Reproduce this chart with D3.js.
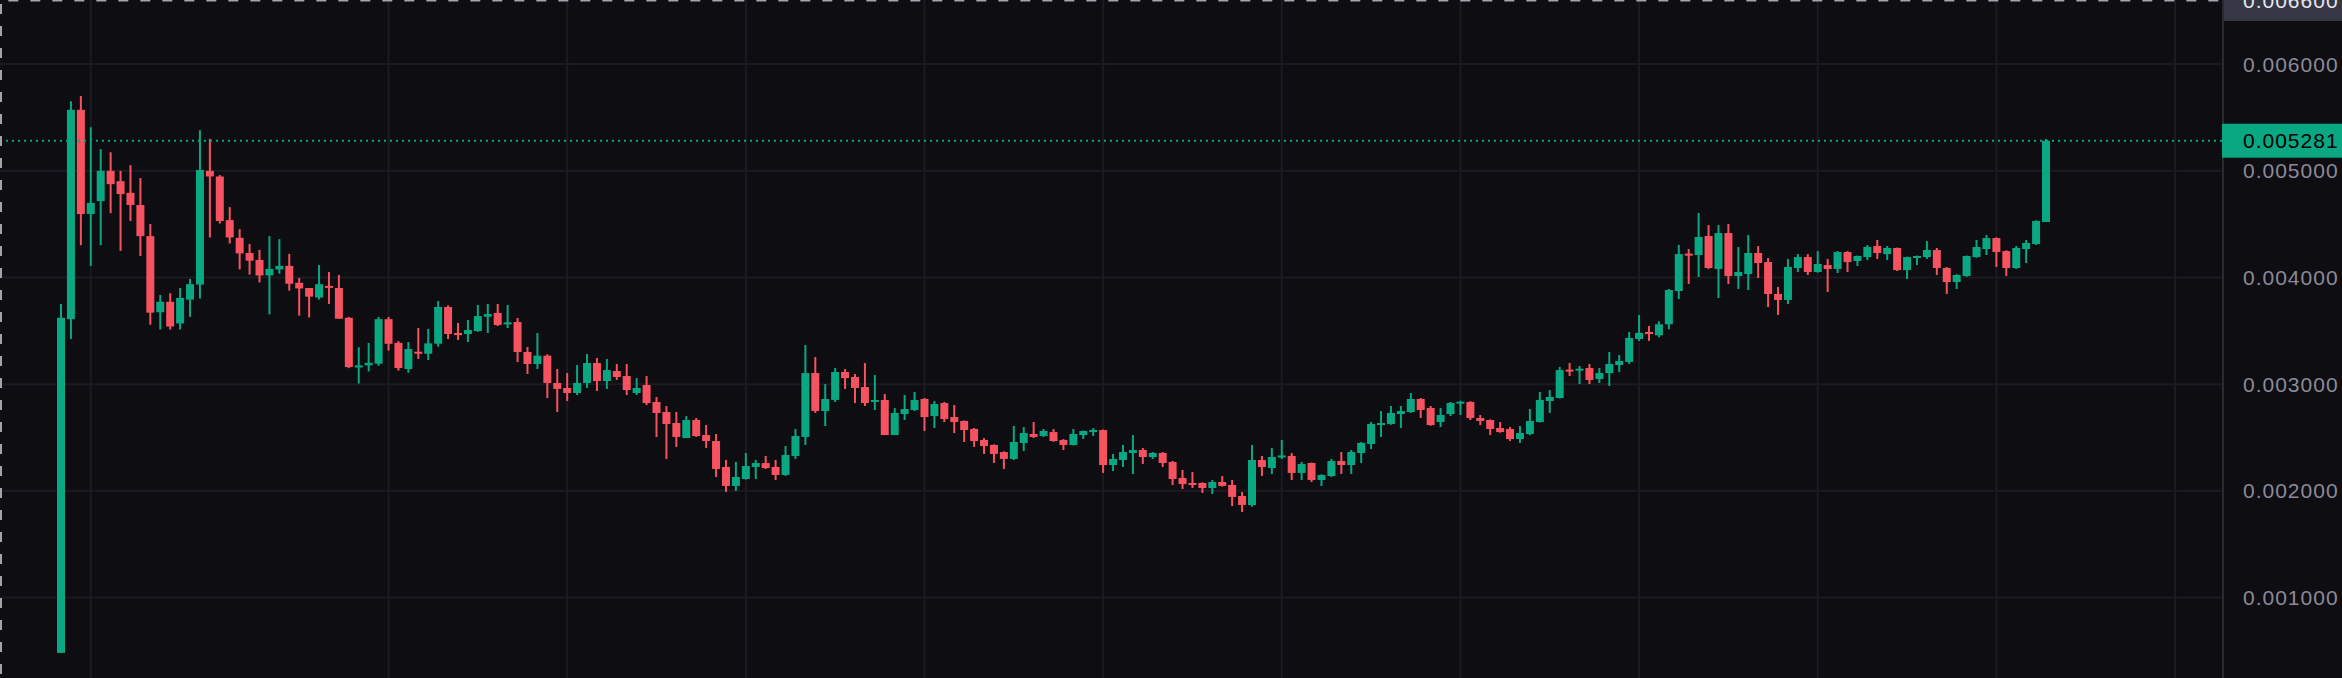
<!DOCTYPE html>
<html>
<head>
<meta charset="utf-8">
<script src="https://cdn.jsdelivr.net/npm/d3@7"></script>
<style>
  html, body { margin: 0; padding: 0; background: #0e0d12; overflow: hidden; }
  svg { display: block; }
</style>
</head>
<body>
<svg id="chart"></svg>
<script>
// OHLC, one entry per candle
const opens = [
  0.000482,0.003609,0.005571,0.004594,0.004715,0.004999,0.004902,0.004793,0.004679,0.004387,
  0.003674,0.003772,0.003569,0.003792,0.003933,0.004999,0.004946,0.004537,0.004371,0.004229,
  0.004164,0.004019,0.004075,0.004108,0.003950,0.003901,0.003812,0.003921,0.003901,0.003622,
  0.003156,0.003176,0.003192,0.003609,0.003387,0.003142,0.003304,0.003285,0.003379,0.003723,
  0.003479,0.003470,0.003498,0.003632,0.003667,0.003560,0.003582,0.003301,0.003189,0.003267,
  0.003011,0.002964,0.002917,0.003011,0.003198,0.003029,0.003123,0.003076,0.002917,0.002992,
  0.002833,0.002739,0.002636,0.002495,0.002664,0.002523,0.002467,0.002224,0.002046,0.002111,
  0.002224,0.002261,0.002224,0.002149,0.002327,0.002505,0.003104,0.002748,0.002852,0.003114,
  0.003067,0.002973,0.002833,0.002852,0.002523,0.002720,0.002758,0.002861,0.002701,0.002823,
  0.002692,0.002655,0.002580,0.002477,0.002430,0.002364,0.002299,0.002449,0.002533,0.002514,
  0.002551,0.002477,0.002430,0.002523,0.002551,0.002570,0.002242,0.002289,0.002355,0.002383,
  0.002317,0.002355,0.002271,0.002121,0.002074,0.002074,0.002027,0.002083,0.002055,0.001952,
  0.001867,0.002289,0.002214,0.002313,0.002327,0.002168,0.002261,0.002102,0.002139,0.002280,
  0.002242,0.002355,0.002439,0.002617,0.002627,0.002720,0.002739,0.002861,0.002777,0.002645,
  0.002720,0.002820,0.002833,0.002683,0.002664,0.002589,0.002580,0.002486,0.002533,0.002645,
  0.002842,0.002870,0.003136,0.003127,0.003151,0.003048,0.003104,0.003179,0.003208,0.003423,
  0.003489,0.003458,0.003561,0.003873,0.004223,0.004210,0.004388,0.004079,0.004416,0.004013,
  0.004032,0.004229,0.004144,0.003845,0.003789,0.004088,0.004191,0.004051,0.004116,0.004079,
  0.004238,0.004154,0.004191,0.004294,0.004219,0.004276,0.004069,0.004182,0.004191,0.004257,
  0.004088,0.003957,0.004013,0.004191,0.004266,0.004369,0.004247,0.004088,0.004266,0.004313,
  0.004519
];
const highs = [
  0.003751,0.005651,0.005700,0.005408,0.005202,0.005173,0.004999,0.005052,0.004931,0.004500,
  0.003836,0.003852,0.003901,0.003986,0.005380,0.005299,0.004959,0.004659,0.004452,0.004314,
  0.004258,0.004387,0.004359,0.004221,0.003995,0.003901,0.004116,0.004051,0.004023,0.003630,
  0.003346,0.003387,0.003630,0.003630,0.003403,0.003395,0.003526,0.003517,0.003779,0.003739,
  0.003573,0.003601,0.003742,0.003751,0.003751,0.003742,0.003620,0.003348,0.003479,0.003280,
  0.003142,0.003104,0.003179,0.003282,0.003245,0.003236,0.003189,0.003189,0.003057,0.003076,
  0.002880,0.002795,0.002739,0.002701,0.002683,0.002617,0.002533,0.002290,0.002271,0.002355,
  0.002290,0.002327,0.002290,0.002420,0.002580,0.003367,0.003254,0.003001,0.003151,0.003142,
  0.003095,0.003198,0.003086,0.002908,0.002777,0.002898,0.002927,0.002870,0.002842,0.002833,
  0.002804,0.002660,0.002589,0.002495,0.002435,0.002370,0.002608,0.002598,0.002645,0.002580,
  0.002580,0.002485,0.002580,0.002565,0.002589,0.002575,0.002346,0.002430,0.002523,0.002402,
  0.002364,0.002364,0.002280,0.002196,0.002177,0.002080,0.002102,0.002139,0.002102,0.001990,
  0.002430,0.002327,0.002402,0.002477,0.002355,0.002271,0.002265,0.002155,0.002299,0.002364,
  0.002383,0.002458,0.002645,0.002748,0.002795,0.002795,0.002917,0.002870,0.002795,0.002777,
  0.002833,0.002845,0.002840,0.002711,0.002670,0.002645,0.002598,0.002608,0.002767,0.002927,
  0.002945,0.003161,0.003198,0.003170,0.003189,0.003151,0.003301,0.003273,0.003489,0.003648,
  0.003545,0.003589,0.003892,0.004304,0.004266,0.004604,0.004491,0.004491,0.004500,0.004285,
  0.004397,0.004294,0.004182,0.003910,0.004173,0.004219,0.004219,0.004247,0.004173,0.004247,
  0.004247,0.004205,0.004304,0.004351,0.004294,0.004280,0.004195,0.004205,0.004341,0.004276,
  0.004098,0.004030,0.004205,0.004351,0.004397,0.004375,0.004255,0.004294,0.004351,0.004535,
  0.005297
];
const lows = [
  0.000482,0.003423,0.004302,0.004108,0.004302,0.004602,0.004249,0.004529,0.004201,0.003557,
  0.003512,0.003512,0.003512,0.003630,0.003803,0.004375,0.004505,0.004318,0.004075,0.004026,
  0.003953,0.003654,0.004035,0.003876,0.003642,0.003625,0.003792,0.003751,0.003613,0.003150,
  0.003006,0.003119,0.003172,0.003314,0.003127,0.003107,0.003236,0.003226,0.003351,0.003423,
  0.003414,0.003395,0.003490,0.003479,0.003545,0.003526,0.003207,0.003095,0.003142,0.002870,
  0.002739,0.002842,0.002898,0.002964,0.002936,0.002955,0.003039,0.002898,0.002898,0.002804,
  0.002505,0.002299,0.002411,0.002495,0.002505,0.002402,0.002130,0.001990,0.001999,0.002105,
  0.002111,0.002205,0.002102,0.002140,0.002299,0.002430,0.002730,0.002608,0.002833,0.002955,
  0.002823,0.002795,0.002758,0.002523,0.002523,0.002664,0.002748,0.002561,0.002589,0.002645,
  0.002542,0.002458,0.002411,0.002346,0.002261,0.002205,0.002290,0.002374,0.002495,0.002505,
  0.002460,0.002383,0.002425,0.002486,0.002514,0.002168,0.002186,0.002224,0.002158,0.002252,
  0.002299,0.002224,0.002055,0.002017,0.002027,0.001980,0.001971,0.002040,0.001858,0.001802,
  0.001852,0.002139,0.002158,0.002299,0.002102,0.002102,0.002083,0.002046,0.002130,0.002158,
  0.002158,0.002261,0.002392,0.002505,0.002620,0.002589,0.002730,0.002683,0.002610,0.002598,
  0.002701,0.002711,0.002664,0.002617,0.002523,0.002545,0.002467,0.002449,0.002523,0.002640,
  0.002730,0.002865,0.003076,0.003001,0.003001,0.003011,0.002983,0.003114,0.003189,0.003405,
  0.003405,0.003439,0.003514,0.003798,0.003938,0.004004,0.004080,0.003807,0.003938,0.003892,
  0.003882,0.003995,0.003723,0.003648,0.003751,0.004051,0.004023,0.004045,0.003864,0.004041,
  0.004051,0.004107,0.004163,0.004173,0.004163,0.004060,0.003985,0.004116,0.004173,0.004023,
  0.003845,0.003892,0.004005,0.004185,0.004210,0.004098,0.004013,0.004079,0.004135,0.004304,
  0.004519
];
const closes = [
  0.003622,0.005571,0.004594,0.004699,0.004999,0.004874,0.004781,0.004679,0.004387,0.003670,
  0.003772,0.003540,0.003808,0.003937,0.005007,0.004946,0.004529,0.004375,0.004225,0.004157,
  0.004019,0.004080,0.004108,0.003941,0.003897,0.003820,0.003937,0.003905,0.003613,0.003160,
  0.003176,0.003200,0.003609,0.003378,0.003151,0.003329,0.003285,0.003382,0.003723,0.003470,
  0.003460,0.003507,0.003638,0.003657,0.003554,0.003579,0.003301,0.003189,0.003267,0.003011,
  0.002955,0.002917,0.003011,0.003198,0.003029,0.003132,0.003067,0.002945,0.002964,0.002823,
  0.002730,0.002627,0.002505,0.002664,0.002514,0.002467,0.002205,0.002046,0.002130,0.002233,
  0.002261,0.002214,0.002149,0.002336,0.002514,0.003104,0.002748,0.002861,0.003114,0.003057,
  0.002964,0.002823,0.002852,0.002523,0.002730,0.002767,0.002852,0.002692,0.002814,0.002673,
  0.002645,0.002570,0.002467,0.002420,0.002346,0.002299,0.002458,0.002542,0.002505,0.002561,
  0.002467,0.002430,0.002533,0.002561,0.002570,0.002242,0.002299,0.002364,0.002383,0.002317,
  0.002355,0.002261,0.002111,0.002064,0.002055,0.002027,0.002083,0.002046,0.001943,0.001868,
  0.002289,0.002224,0.002317,0.002332,0.002168,0.002252,0.002102,0.002149,0.002280,0.002242,
  0.002364,0.002449,0.002627,0.002636,0.002730,0.002748,0.002861,0.002758,0.002617,0.002711,
  0.002823,0.002836,0.002683,0.002655,0.002580,0.002551,0.002486,0.002542,0.002655,0.002852,
  0.002880,0.003132,0.003120,0.003145,0.003039,0.003104,0.003189,0.003217,0.003433,0.003480,
  0.003470,0.003561,0.003882,0.004219,0.004207,0.004379,0.004088,0.004416,0.004013,0.004051,
  0.004229,0.004135,0.003845,0.003789,0.004098,0.004191,0.004051,0.004126,0.004079,0.004238,
  0.004144,0.004201,0.004285,0.004229,0.004276,0.004069,0.004191,0.004201,0.004257,0.004088,
  0.003957,0.004023,0.004201,0.004285,0.004369,0.004238,0.004088,0.004276,0.004323,0.004529,
  0.005281
];

// price scale ticks and time grid positions (in candle index)
const priceTicks = [0.001, 0.002, 0.003, 0.004, 0.005, 0.006];
const timeGrid = [3, 33, 51, 69, 87, 105, 123, 141, 159, 177, 195, 213];
const lastPrice = 0.005281;
const hoverPrice = 0.0066;

const width = 2342, height = 678;
const axisX = 2223;
const upColor = '#0aa783';
const downColor = '#f7525f';

const svg = d3.select('#chart')
  .attr('width', width)
  .attr('height', height);

svg.append('rect')
  .attr('width', width).attr('height', height)
  .attr('fill', '#0e0d12');

const x = d3.scaleLinear().domain([0, 200]).range([61, 2046]);
const y = d3.scaleLinear().domain([0, 0.006]).range([704.3, 64]);

const candles = opens.map((o, i) => ({
  i, o, h: highs[i], l: lows[i], c: closes[i]
}));

// grid
const grid = svg.append('g');
grid.selectAll('.vgrid')
  .data(timeGrid)
  .enter().append('line')
    .attr('x1', d => x(d)).attr('x2', d => x(d))
    .attr('y1', 0).attr('y2', height)
    .attr('stroke', '#1c1b22')
    .attr('stroke-width', 2);
grid.selectAll('.hgrid')
  .data(priceTicks)
  .enter().append('line')
    .attr('x1', 0).attr('x2', axisX)
    .attr('y1', d => y(d)).attr('y2', d => y(d))
    .attr('stroke', '#1c1b22')
    .attr('stroke-width', 2);

// candles
const g = svg.append('g');
g.selectAll('.wick')
  .data(candles)
  .enter().append('rect')
    .attr('x', d => x(d.i) - 1)
    .attr('width', 2)
    .attr('y', d => y(d.h))
    .attr('height', d => Math.max(1, y(d.l) - y(d.h)))
    .attr('fill', d => d.c >= d.o ? upColor : downColor);
g.selectAll('.body')
  .data(candles)
  .enter().append('rect')
    .attr('x', d => x(d.i) - 4)
    .attr('width', 8)
    .attr('y', d => y(Math.max(d.o, d.c)))
    .attr('height', d => Math.max(2, Math.abs(y(d.o) - y(d.c))))
    .attr('fill', d => d.c >= d.o ? upColor : downColor);

// last price line
svg.append('line')
  .attr('x1', 0).attr('x2', axisX)
  .attr('y1', y(lastPrice)).attr('y2', y(lastPrice))
  .attr('stroke', upColor)
  .attr('stroke-width', 2)
  .attr('stroke-dasharray', '2 4');

// price axis
const axis = svg.append('g');
axis.append('rect')
  .attr('x', axisX).attr('y', 0)
  .attr('width', width - axisX).attr('height', height)
  .attr('fill', '#0e0d12');
axis.append('line')
  .attr('x1', axisX).attr('x2', axisX)
  .attr('y1', 0).attr('y2', height)
  .attr('stroke', '#2a2a31')
  .attr('stroke-width', 2);

axis.selectAll('.tick')
  .data(priceTicks)
  .enter().append('text')
    .attr('x', 2243)
    .attr('y', d => y(d))
    .attr('dy', '0.36em')
    .style('font-family', '"Liberation Sans", Arial, sans-serif')
    .style('font-size', '21px')
    .style('letter-spacing', '1px')
    .attr('fill', '#8b8a99')
    .text(d => d.toFixed(6));

// hover label at top
axis.append('rect')
  .attr('x', axisX + 1).attr('y', y(hoverPrice) - 21)
  .attr('width', width - axisX).attr('height', 42)
  .attr('fill', '#363744');
axis.append('text')
  .attr('x', 2243)
  .attr('y', y(hoverPrice))
  .attr('dy', '0.36em')
  .style('font-family', '"Liberation Sans", Arial, sans-serif')
  .style('font-size', '21px')
  .style('letter-spacing', '1px')
  .attr('fill', '#e6e6ec')
  .text(hoverPrice.toFixed(6));

// last price label
axis.append('rect')
  .attr('x', axisX - 1).attr('y', y(lastPrice) - 17)
  .attr('width', width - axisX + 1).attr('height', 34)
  .attr('fill', upColor);
axis.append('text')
  .attr('x', 2243)
  .attr('y', y(lastPrice))
  .attr('dy', '0.36em')
  .style('font-family', '"Liberation Sans", Arial, sans-serif')
  .style('font-size', '21px')
  .style('letter-spacing', '1px')
  .attr('fill', '#000')
  .text(lastPrice.toFixed(6));

// dashed focus border (top + left)
svg.append('line')
  .attr('x1', 0).attr('x2', axisX - 3)
  .attr('y1', 0.5).attr('y2', 0.5)
  .attr('stroke', '#a3a3aa').attr('stroke-width', 2)
  .attr('stroke-dasharray', '10 12')
  .attr('stroke-dashoffset', 13.7);
svg.append('line')
  .attr('x1', 1).attr('x2', 1)
  .attr('y1', 0).attr('y2', height)
  .attr('stroke', '#a3a3aa').attr('stroke-width', 2)
  .attr('stroke-dasharray', '10 12')
  .attr('stroke-dashoffset', 18);
</script>
</body>
</html>
